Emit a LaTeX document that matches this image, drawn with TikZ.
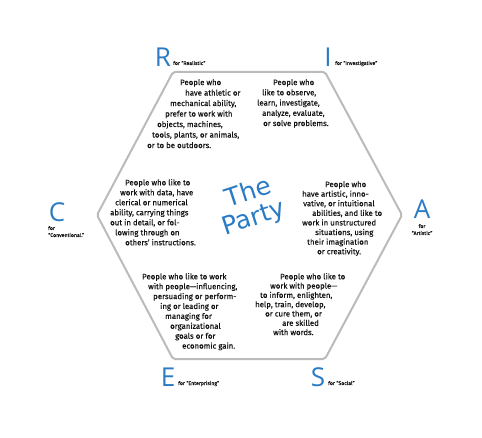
\documentclass[tikz,border=0pt]{standalone}
\usepackage{fontspec}
\setmainfont{Fira Sans}[FakeBold=0.35]
\newfontfamily\lettfont{Open Sans}
\newfontfamily\titlefont{DejaVu Sans}
\usetikzlibrary{positioning}
\definecolor{hollandBlue}{HTML}{2B7BC4}
\definecolor{hexGray}{HTML}{BBBBBB}
\definecolor{blurbInk}{HTML}{111111}

\tikzset{
  letter/.style={font=\lettfont\fontsize{26}{26}\selectfont, text=hollandBlue, inner sep=0pt},
  forlabel/.style={font=\fontsize{5.2}{6}\selectfont, text=blurbInk, inner sep=0pt},
  blurb/.style={font=\fontsize{7.8}{#1}\selectfont, text=blurbInk, align=left,
    anchor=north west, inner sep=0pt},
  titleword/.style={font=\titlefont\fontsize{25}{25}\selectfont, text=hollandBlue,
    rotate=18, inner sep=0pt},
}

\begin{document}
\begin{tikzpicture}[x=1pt, y=-1pt]
    \useasboundingbox (0,0) rectangle (482,438);

    % Hexagon
    \coordinate (tl) at (173,72);
    \coordinate (tr) at (325,72);
    \coordinate (rt) at (402,215);
    \coordinate (br) at (325,359);
    \coordinate (bl) at (173,359);
    \coordinate (lf) at (97,215);
    \draw[hexGray, line width=2pt, rounded corners=2pt]
      (tl) -- (tr) -- (rt) -- (br) -- (bl) -- (lf) -- cycle;

    % Title
    \node[titleword] (the) at (248,191) {The};
    \node[titleword] (party) at (254,219) {Party};

    % Letters
    \node[letter, anchor=base] (R) at (163,67) {R};
    \node[forlabel, anchor=base west] (Rfor) at (173,65) {for ``Realistic''};
    \node[letter, anchor=base] (I) at (328,67) {I};
    \node[forlabel, anchor=base west] (Ifor) at (335,65) {for ``Investigative''};
    \node[letter, anchor=base] (C) at (57,222) {C};
    \node[forlabel, anchor=base west] (Cfor) at (48,230) {for};
    \node[forlabel, anchor=base west] (Cname) at (48,237) {``Conventional.''};
    \node[letter, anchor=base] (A) at (422,219) {A};
    \node[forlabel, anchor=base] (Afor) at (422,228) {for};
    \node[forlabel, anchor=base] (Aname) at (422,235) {``Artistic''};
    \node[letter, anchor=base] (E) at (168,386) {E};
    \node[forlabel, anchor=base west] (Efor) at (178,385) {for ``Enterprising''};
    \node[letter, anchor=base] (S) at (318,386) {S};
    \node[forlabel, anchor=base west] (Sfor) at (328,385) {for ``Social''};

    % Descriptions
    \node[blurb=10.5] (Rtext) at (147,79) {%
      \hspace*{33pt}People who\\
      \hspace*{38pt}have athletic or\\
      \hspace*{23pt}mechanical ability,\\
      \hspace*{18pt}prefer to work with\\
      \hspace*{10pt}objects, machines,\\
      \hspace*{5pt}tools, plants, or animals,\\
      or to be outdoors.};
    \node[blurb=10.25] (Itext) at (257,79) {%
      \hspace*{16pt}People who\\
      \hspace*{5pt}like to observe,\\
      learn, investigate,\\
      \hspace*{5pt}analyze, evaluate,\\
      \hspace*{6pt}or solve problems.};
    \node[blurb=10] (Ctext) at (110,179) {%
      \hspace*{15pt}People who like to\\
      \hspace*{10pt}work with data, have\\
      \hspace*{5pt}clerical or numerical\\
      ability, carrying things\\
      out in detail, or fol-\\
      \hspace*{5pt}lowing through on\\
      \hspace*{15pt}others' instructions.};
    \node[blurb=9.6] (Atext) at (302,181) {%
      \hspace*{23pt}People who\\
      have artistic, inno-\\
      \hspace*{1pt}vative, or intuitional\\
      \hspace*{10pt}abilities, and like to\\
      work in unstructured\\
      \hspace*{13pt}situations, using\\
      \hspace*{5pt}their imagination\\
      \hspace*{15pt}or creativity.};
    \node[blurb=9.9] (Etext) at (142,273) {%
      People who like to work\\
      \hspace*{6pt}with people---influencing,\\
      \hspace*{11pt}persuading or perform-\\
      \hspace*{18pt}ing or leading or\\
      \hspace*{23pt}managing for\\
      \hspace*{28pt}organizational\\
      \hspace*{33pt}goals or for\\
      \hspace*{40pt}economic gain.};
    \node[blurb=9.3] (Stext) at (255,273) {%
      \hspace*{25pt}People who like to\\
      \hspace*{15pt}work with people---\\
      \hspace*{5pt}to inform, enlighten,\\
      help, train, develop,\\
      \hspace*{10pt}or cure them, or\\
      \hspace*{27pt}are skilled\\
      \hspace*{18pt}with words.};
  \end{tikzpicture}
\end{document}
